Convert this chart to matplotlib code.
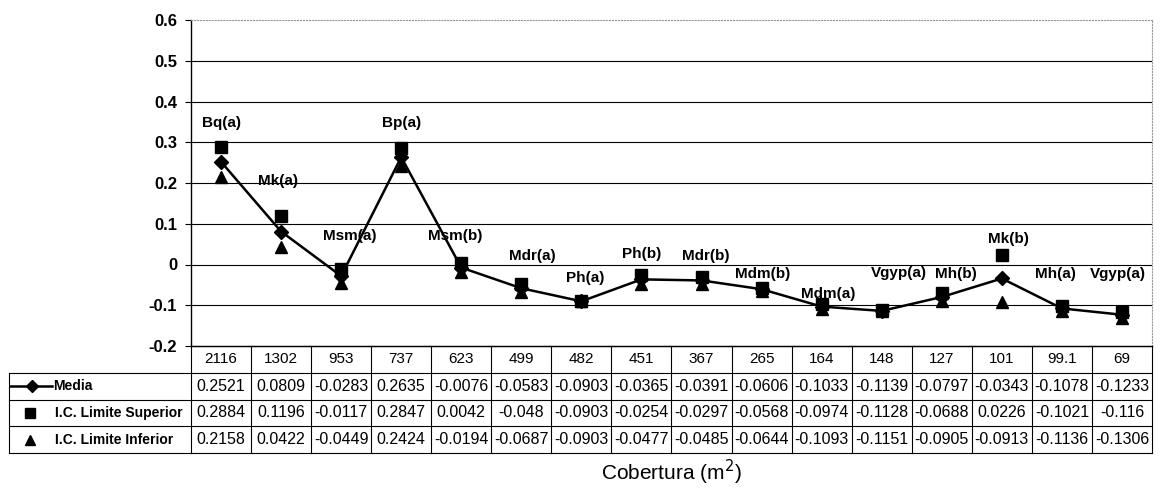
import matplotlib
matplotlib.use('Agg')
import matplotlib.pyplot as plt

plt.rcParams['font.family'] = ['Liberation Sans', 'DejaVu Sans']

cobertura = [2116, 1302, 953, 737, 623, 499, 482, 451, 367, 265, 164, 148, 127, 101, 99.1, 69]
especies = ["Bq(a)", "Mk(a)", "Msm(a)", "Bp(a)", "Msm(b)", "Mdr(a)", "Ph(a)", "Ph(b)",
            "Mdr(b)", "Mdm(b)", "Mdm(a)", "Vgyp(a)", "Mh(b)", "Mk(b)", "Mh(a)", "Vgyp(a)"]
media = [0.2521, 0.0809, -0.0283, 0.2635, -0.0076, -0.0583, -0.0903, -0.0365,
         -0.0391, -0.0606, -0.1033, -0.1139, -0.0797, -0.0343, -0.1078, -0.1233]
lim_sup = [0.2884, 0.1196, -0.0117, 0.2847, 0.0042, -0.048, -0.0903, -0.0254,
           -0.0297, -0.0568, -0.0974, -0.1128, -0.0688, 0.0226, -0.1021, -0.116]
lim_inf = [0.2158, 0.0422, -0.0449, 0.2424, -0.0194, -0.0687, -0.0903, -0.0477,
           -0.0485, -0.0644, -0.1093, -0.1151, -0.0905, -0.0913, -0.1136, -0.1306]
row_names = ["Media", "I.C. Limite Superior", "I.C. Limite Inferior"]

# label placement (pixel offsets from the upper-limit marker)
label_dx = [0, -3, 9, 0, -6, 11, 4, 0, 4, 1, 7, 17, 14, 7, -6, -4]
label_dy = [24, 35, 33, 25, 27, 28, 23, 21, 21, 14, 10, 37, 19, 16, 32, 38]

W, H = 1164, 490
fig = plt.figure(figsize=(W / 100, H / 100), dpi=100, facecolor='white')

# main plot area, pixel box 191..1152 x 20..346
ax = fig.add_axes([191 / W, (H - 346) / H, (1152 - 191) / W, (346 - 20) / H])
x = list(range(len(cobertura)))

ax.plot(x, media, color='black', lw=1.8, marker='D', ms=7, zorder=4)
ax.plot(x, lim_sup, ls='none', color='black', marker='s', ms=8.5, zorder=5)
ax.plot(x, lim_inf, ls='none', color='black', marker='^', ms=8.5, zorder=3)

for i, name in enumerate(especies):
    ax.annotate(name, (i, lim_sup[i]), xytext=(label_dx[i], label_dy[i]),
                textcoords='offset pixels', ha='center', va='center',
                fontsize=11, fontweight='bold', zorder=6)

ax.set_xlim(-0.5, len(cobertura) - 0.5)
ax.set_ylim(-0.2, 0.6)
ax.set_yticks([-0.2, -0.1, 0, 0.1, 0.2, 0.3, 0.4, 0.5, 0.6])
ax.set_yticklabels(['-0.2', '-0.1', '0', '0.1', '0.2', '0.3', '0.4', '0.5', '0.6'],
                   fontsize=12, fontweight='bold')
ax.tick_params(axis='y', direction='out', length=4, width=0.8, pad=6)
ax.set_xticks([])
for v in [-0.1, 0, 0.1, 0.2, 0.3, 0.4, 0.5]:
    ax.axhline(v, color='black', lw=0.8, zorder=1)
ax.spines['left'].set_linewidth(1.0)
ax.spines['bottom'].set_linewidth(1.0)
for s in ['top', 'right']:
    ax.spines[s].set_color('#999999')
    ax.spines[s].set_linestyle(':')
    ax.spines[s].set_linewidth(0.8)

# data table below, pixel box 9..1152 x 346..453
tax = fig.add_axes([9 / W, (H - 453) / H, (1152 - 9) / W, (453 - 346) / H])
x0 = -0.5 - (191 - 9) / ((1152 - 191) / len(cobertura))
tax.set_xlim(x0, len(cobertura) - 0.5)
tax.set_ylim(4, 0)
tax.axis('off')

n = len(cobertura)
lc = dict(color='black', lw=0.8, clip_on=False)
for i in range(n + 1):
    tax.plot([i - 0.5, i - 0.5], [0, 4], **lc)
tax.plot([-0.5, n - 0.5], [0, 0], **lc)
for r in range(1, 5):
    tax.plot([x0, n - 0.5], [r, r], **lc)
tax.plot([x0, x0], [1, 4], **lc)

for i, c in enumerate(cobertura):
    tax.text(i, 0.5, f"{c:g}", ha='center', va='center', fontsize=11)
for r, serie in enumerate([media, lim_sup, lim_inf]):
    for i, v in enumerate(serie):
        tax.text(i, 1.5 + r, f"{v:g}", ha='center', va='center', fontsize=11.5)

# legend keys inside the table
px = (1152 - 191) / n
tax.plot([x0 + 1 / px, x0 + 43 / px], [1.5, 1.5], color='black', lw=1.8, clip_on=False)
tax.plot([x0 + 23 / px], [1.5], color='black', marker='D', ms=6.5, clip_on=False)
tax.plot([x0 + 21 / px], [2.5], color='black', marker='s', ms=7.5, clip_on=False)
tax.plot([x0 + 21 / px], [3.5], color='black', marker='^', ms=7.5, clip_on=False)
tax.text(x0 + 44 / px, 1.5, row_names[0], ha='left', va='center', fontsize=10, fontweight='bold')
tax.text(x0 + 46 / px, 2.5, row_names[1], ha='left', va='center', fontsize=10, fontweight='bold')
tax.text(x0 + 46 / px, 3.5, row_names[2], ha='left', va='center', fontsize=10, fontweight='bold')

fig.text((191 + 1152) / 2 / W, 1 - 472 / H, "Cobertura (m$^2$)", ha='center', va='center',
         fontsize=15)

fig.savefig("out.png", dpi=100, facecolor='white')
